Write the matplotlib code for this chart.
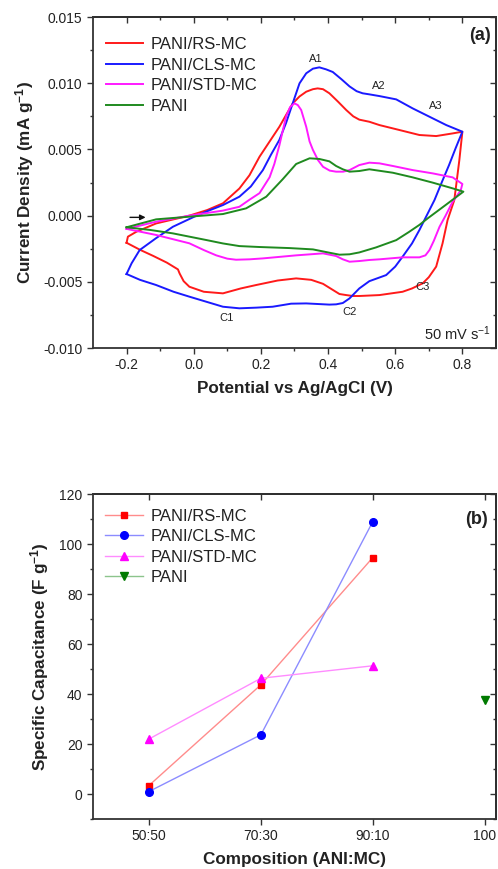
import matplotlib
matplotlib.use('Agg')
import matplotlib.pyplot as plt
from matplotlib.ticker import FormatStrFormatter

plt.rcParams['font.family'] = ['Liberation Sans', 'DejaVu Sans']
plt.rcParams['axes.unicode_minus'] = False
plt.rcParams['mathtext.default'] = 'regular'

# ---- (a) CV curves, potential (V) and current density (x 1e-3 mA g^-1) ----
rs_v = [-0.200, -0.196, -0.171, -0.112, -0.013, 0.040, 0.087, 0.136, 0.166, 0.196, 0.226, 0.255, 0.275,
        0.295, 0.315, 0.335, 0.355, 0.369, 0.385, 0.404, 0.430, 0.454, 0.475, 0.493, 0.523, 0.553, 0.612,
        0.672, 0.722, 0.771, 0.800,
        0.791, 0.776, 0.756, 0.741, 0.722, 0.700, 0.682, 0.650, 0.622, 0.553, 0.493, 0.474, 0.454, 0.434,
        0.404, 0.385, 0.350, 0.305, 0.250, 0.186, 0.140, 0.087, 0.030, -0.013, -0.030, -0.042, -0.047,
        -0.080, -0.120, -0.160, -0.200]
rs_i = [-2.05, -1.59, -1.22, -0.59, 0.00, 0.42, 0.93, 2.05, 3.05, 4.45, 5.60, 6.71, 7.60,
        8.48, 9.00, 9.36, 9.55, 9.61, 9.55, 9.24, 8.60, 7.98, 7.50, 7.25, 7.09, 6.84, 6.47,
        6.09, 6.01, 6.21, 6.34,
        4.20, 1.18, -0.33, -2.09, -3.85, -4.65, -5.11, -5.50, -5.75, -6.00, -6.07, -6.07, -6.00, -5.92,
        -5.45, -5.15, -4.85, -4.74, -4.90, -5.24, -5.50, -5.87, -5.75, -5.37, -4.95, -4.37, -4.06,
        -3.55, -3.05, -2.58, -2.05]

cls_v = [-0.200, -0.185, -0.161, -0.112, -0.062, 0.000, 0.037, 0.087, 0.136, 0.170, 0.206, 0.230, 0.255,
         0.275, 0.295, 0.315, 0.335, 0.355, 0.374, 0.394, 0.414, 0.440, 0.464, 0.485, 0.503, 0.523, 0.553,
         0.603, 0.652, 0.702, 0.752, 0.800,
         0.780, 0.760, 0.740, 0.717, 0.687, 0.672, 0.650, 0.622, 0.600, 0.573, 0.523, 0.493, 0.464, 0.444,
         0.424, 0.404, 0.335, 0.290, 0.235, 0.186, 0.136, 0.087, 0.037, -0.013, -0.060, -0.112, -0.160, -0.200]
cls_i = [-4.41, -3.60, -2.60, -1.70, -0.84, -0.10, 0.30, 0.80, 1.43, 2.20, 3.44, 4.60, 5.72,
         7.00, 8.50, 9.99, 10.75, 11.10, 11.20, 11.05, 10.85, 10.30, 9.76, 9.40, 9.24, 9.16, 9.03,
         8.78, 8.10, 7.47, 6.84, 6.34,
         5.10, 3.80, 2.60, 1.18, -0.33, -1.09, -2.10, -3.10, -3.85, -4.49, -4.95, -5.50, -6.25, -6.60,
         -6.70, -6.72, -6.63, -6.65, -6.88, -6.95, -7.00, -6.88, -6.50, -6.12, -5.75, -5.24, -4.85, -4.41]

std_v = [-0.200, -0.112, -0.013, 0.087, 0.136, 0.166, 0.196, 0.226, 0.240, 0.255, 0.265, 0.275, 0.287,
         0.300, 0.310, 0.320, 0.335, 0.345, 0.355, 0.370, 0.385, 0.405, 0.424, 0.445, 0.464, 0.493, 0.523,
         0.553, 0.593, 0.652, 0.712, 0.771, 0.800,
         0.795, 0.771, 0.750, 0.732, 0.715, 0.702, 0.690, 0.672, 0.622, 0.553, 0.523, 0.493, 0.464, 0.444,
         0.424, 0.385, 0.305, 0.206, 0.166, 0.126, 0.100, 0.067, 0.030, -0.013, -0.112, -0.200]
std_i = [-1.00, -0.46, 0.00, 0.38, 0.67, 1.20, 1.70, 2.90, 3.90, 5.30, 6.40, 7.47, 8.20,
         8.48, 8.35, 7.98, 6.71, 5.60, 4.96, 4.20, 3.69, 3.40, 3.32, 3.32, 3.44, 3.82, 4.00,
         3.95, 3.75, 3.44, 3.19, 2.89, 2.39,
         1.90, 1.05, 0.00, -0.84, -1.90, -2.60, -3.00, -3.15, -3.15, -3.30, -3.35, -3.43, -3.48, -3.30,
         -3.05, -2.85, -3.00, -3.23, -3.30, -3.33, -3.25, -3.00, -2.60, -2.09, -1.46, -1.00]

pani_v = [-0.200, -0.112, -0.013, 0.087, 0.156, 0.216, 0.265, 0.305, 0.345, 0.374, 0.404, 0.424, 0.444,
          0.464, 0.493, 0.523, 0.593, 0.652, 0.712, 0.771, 0.803,
          0.750, 0.697, 0.672, 0.640, 0.603, 0.543, 0.493, 0.464, 0.434, 0.404, 0.355, 0.285, 0.196,
          0.136, 0.087, 0.037, -0.062, -0.130, -0.200]
pani_i = [-0.88, -0.28, -0.08, 0.12, 0.55, 1.43, 2.75, 3.90, 4.33, 4.28, 4.10, 3.75, 3.50,
          3.32, 3.37, 3.50, 3.24, 2.89, 2.49, 2.06, 1.81,
          0.80, -0.20, -0.70, -1.25, -1.85, -2.40, -2.78, -2.92, -2.95, -2.80, -2.55, -2.45, -2.37,
          -2.30, -2.10, -1.84, -1.34, -1.08, -0.88]

cv_labels = ['PANI/RS-MC', 'PANI/CLS-MC', 'PANI/STD-MC', 'PANI']
cv_colors = ['#ff1a1a', '#1a1aff', '#ff1aff', '#1f8a1f']

# ---- (b) specific capacitance ----
compositions = ['50:50', '70:30', '90:10', '100']
rs_cap = [3.4, 43.7, 94.6]
cls_cap = [1.0, 23.7, 109.0]
std_cap = [22.0, 46.3, 51.3]
pani_cap = [37.7]

txt = '#222222'
fig = plt.figure(figsize=(4.98, 8.69), dpi=100)
ax1 = fig.add_axes([0.1867, 0.5995, 0.8092, 0.3809])
ax2 = fig.add_axes([0.1867, 0.0575, 0.8092, 0.3740])


def style(ax):
    for s in ax.spines.values():
        s.set_linewidth(1.3)
        s.set_color('#333333')
    ax.tick_params(which='major', direction='out', length=4.5, width=1.0, color='#333333',
                   labelsize=10, labelcolor=txt, pad=3)
    ax.tick_params(which='minor', direction='out', length=2.5, width=1.0, color='#333333')


def mirror(ax, xmaj, xmin, ymaj, ymin):
    # top and right axes carry inward ticks, no labels
    top = ax.secondary_xaxis('top')
    top.set_xticks(xmaj)
    if xmin is not None:
        top.set_xticks(xmin, minor=True)
    top.tick_params(which='major', direction='in', length=4.5, width=1.0, color='#333333', labeltop=False)
    top.tick_params(which='minor', direction='in', length=2.5, width=1.0, color='#333333')
    top.spines['top'].set_linewidth(1.3)
    right = ax.secondary_yaxis('right')
    right.set_yticks(ymaj)
    right.set_yticks(ymin, minor=True)
    right.tick_params(which='major', direction='in', length=4.5, width=1.0, color='#333333', labelright=False)
    right.tick_params(which='minor', direction='in', length=2.5, width=1.0, color='#333333')
    right.spines['right'].set_linewidth(1.3)


# ----- panel (a) -----
series = [(rs_v, rs_i), (cls_v, cls_i), (std_v, std_i), (pani_v, pani_i)]
for (v, i), lab, col in zip(series, cv_labels, cv_colors):
    ax1.plot(v, [k * 1e-3 for k in i], color=col, lw=1.4, label=lab, solid_joinstyle='round')

ax1.set_xlim(-0.3, 0.9)
ax1.set_ylim(-0.010, 0.015)
xmaj = [-0.2, 0.0, 0.2, 0.4, 0.6, 0.8]
xmin = [-0.1, 0.1, 0.3, 0.5, 0.7]
ymaj = [-0.010, -0.005, 0.0, 0.005, 0.010, 0.015]
ymin = [-0.0075, -0.0025, 0.0025, 0.0075, 0.0125]
ax1.set_xticks(xmaj)
ax1.set_xticks(xmin, minor=True)
ax1.set_yticks(ymaj)
ax1.set_yticks(ymin, minor=True)
ax1.xaxis.set_major_formatter(FormatStrFormatter('%.1f'))
ax1.yaxis.set_major_formatter(FormatStrFormatter('%.3f'))
style(ax1)
mirror(ax1, xmaj, xmin, ymaj, ymin)
ax1.set_xlabel('Potential vs Ag/AgCl (V)', fontsize=12.3, fontweight='bold', color=txt, labelpad=6)
ax1.set_ylabel('Current Density (mA g$^{-1}$)', fontsize=12.3, fontweight='bold', color=txt, labelpad=5)

ax1.legend(loc='upper left', bbox_to_anchor=(0.0, 0.979), frameon=False, fontsize=12,
           handlelength=2.2, handletextpad=0.45, labelspacing=0.33, borderaxespad=0.4, labelcolor=txt)

for s, xx, yy in [('A1', 0.364, 0.0118), ('A2', 0.552, 0.0098), ('A3', 0.721, 0.0083),
                  ('C1', 0.097, -0.0077), ('C2', 0.463, -0.0073), ('C3', 0.681, -0.0054)]:
    ax1.text(xx, yy, s, fontsize=8, ha='center', va='center', color=txt)
ax1.text(0.885, -0.0089, '50 mV s$^{-1}$', fontsize=10.5, ha='right', va='center', color=txt)
ax1.text(0.885, 0.0136, '(a)', fontsize=13, fontweight='bold', ha='right', va='center', color=txt)
ax1.annotate('', xy=(-0.135, -0.00013), xytext=(-0.198, -0.00013),
             arrowprops=dict(arrowstyle='-|>', color='#111111', lw=1.0, mutation_scale=8))

# ----- panel (b) -----
xpos = list(range(len(compositions)))
ax2.plot(xpos[:3], rs_cap, color='#ff8c8c', lw=1.0, marker='s', ms=5,
         mfc='#ff0000', mec='#ff0000', label='PANI/RS-MC')
ax2.plot(xpos[:3], cls_cap, color='#8c8cff', lw=1.0, marker='o', ms=5.5,
         mfc='#0000ff', mec='#0000ff', label='PANI/CLS-MC')
ax2.plot(xpos[:3], std_cap, color='#ff8cff', lw=1.0, marker='^', ms=6,
         mfc='#ff00ff', mec='#ff00ff', label='PANI/STD-MC')
ax2.plot(xpos[3:], pani_cap, color='#8cc48c', lw=1.0, marker='v', ms=6,
         mfc='#007a00', mec='#007a00', label='PANI')

ax2.set_xlim(-0.5, 3.1)
ax2.set_ylim(-10, 120)
ymaj2 = [0, 20, 40, 60, 80, 100, 120]
ymin2 = [-10, 10, 30, 50, 70, 90, 110]
ax2.set_xticks(xpos)
ax2.set_xticklabels(compositions)
ax2.set_yticks(ymaj2)
ax2.set_yticks(ymin2, minor=True)
style(ax2)
mirror(ax2, xpos, None, ymaj2, ymin2)
ax2.set_xlabel('Composition (ANI:MC)', fontsize=12.3, fontweight='bold', color=txt, labelpad=6)
ax2.set_ylabel('Specific Capacitance (F g$^{-1}$)', fontsize=12.3, fontweight='bold', color=txt, labelpad=6)
ax2.legend(loc='upper left', bbox_to_anchor=(0.0, 0.991), frameon=False, fontsize=12,
           handlelength=2.3, handletextpad=0.45, labelspacing=0.33, borderaxespad=0.3, labelcolor=txt)
ax2.text(3.03, 110, '(b)', fontsize=13, fontweight='bold', ha='right', va='center', color=txt)

fig.savefig('out.png', dpi=100)
